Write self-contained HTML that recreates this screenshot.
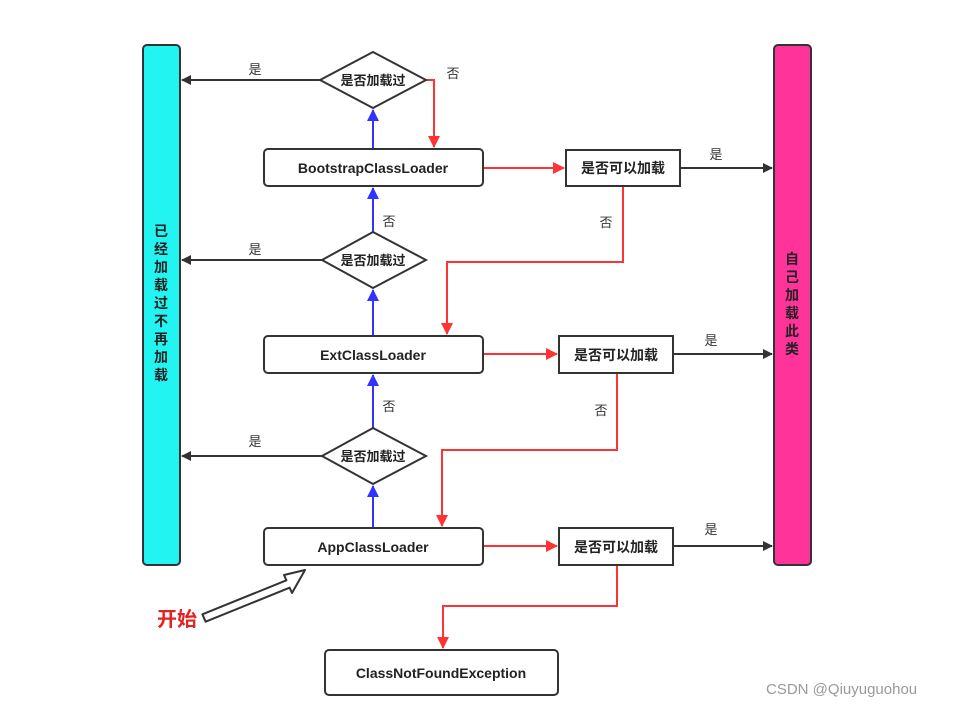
<!DOCTYPE html>
<html><head><meta charset="utf-8"><style>
html,body{margin:0;padding:0;background:#fff;}
svg{display:block;font-family:"Liberation Sans","Noto Sans CJK SC",sans-serif;}
.b{font-weight:bold;fill:#222;}
.l{fill:#333;font-size:13px;}
</style></head><body>
<svg width="964" height="707" viewBox="0 0 964 707" xmlns="http://www.w3.org/2000/svg">
<defs>
<marker id="ak" markerWidth="10" markerHeight="10" refX="9" refY="5" orient="auto" markerUnits="userSpaceOnUse"><path d="M0,0 L10,5 L0,10 z" fill="#333"/></marker>
<marker id="ar" markerWidth="12" markerHeight="14" refX="11" refY="6" orient="auto" markerUnits="userSpaceOnUse"><path d="M0,0 L12,6 L0,12 z" fill="#f33"/></marker>
<marker id="ab" markerWidth="12" markerHeight="14" refX="11" refY="6" orient="auto" markerUnits="userSpaceOnUse"><path d="M0,0 L12,6 L0,12 z" fill="#33f"/></marker>
</defs>
<rect x="143" y="45" width="37" height="520" rx="4" fill="#22f4f2" stroke="#333" stroke-width="2"/>
<rect x="774" y="45" width="37" height="520" rx="4" fill="#ff3399" stroke="#333" stroke-width="2"/>
<text class="b" font-size="14" text-anchor="middle">
<tspan x="161" y="236">已</tspan><tspan x="161" y="254">经</tspan><tspan x="161" y="272">加</tspan><tspan x="161" y="290">载</tspan><tspan x="161" y="308">过</tspan><tspan x="161" y="326">不</tspan><tspan x="161" y="344">再</tspan><tspan x="161" y="362">加</tspan><tspan x="161" y="380">载</tspan>
</text>
<text class="b" font-size="14" text-anchor="middle">
<tspan x="792" y="264">自</tspan><tspan x="792" y="282">己</tspan><tspan x="792" y="300">加</tspan><tspan x="792" y="318">载</tspan><tspan x="792" y="336">此</tspan><tspan x="792" y="354">类</tspan>
</text>
<g fill="none" stroke-width="2">
<path d="M320,80 H182" stroke="#333" marker-end="url(#ak)"/>
<path d="M322,260 H182" stroke="#333" marker-end="url(#ak)"/>
<path d="M322,456 H182" stroke="#333" marker-end="url(#ak)"/>
<path d="M680,168 H772" stroke="#333" marker-end="url(#ak)"/>
<path d="M673,354 H772" stroke="#333" marker-end="url(#ak)"/>
<path d="M673,546 H772" stroke="#333" marker-end="url(#ak)"/>
<path d="M373,149 V110" stroke="#33f" marker-end="url(#ab)"/>
<path d="M373,232 V188" stroke="#33f" marker-end="url(#ab)"/>
<path d="M373,336 V290" stroke="#33f" marker-end="url(#ab)"/>
<path d="M373,428 V375" stroke="#33f" marker-end="url(#ab)"/>
<path d="M373,528 V486" stroke="#33f" marker-end="url(#ab)"/>
<path d="M426,80 H434 V147" stroke="#f33" marker-end="url(#ar)"/>
<path d="M483,168 H564" stroke="#f33" marker-end="url(#ar)"/>
<path d="M623,186 V262 H447 V334" stroke="#f33" marker-end="url(#ar)"/>
<path d="M483,354 H557" stroke="#f33" marker-end="url(#ar)"/>
<path d="M617,373 V450 H442 V526" stroke="#f33" marker-end="url(#ar)"/>
<path d="M483,546 H557" stroke="#f33" marker-end="url(#ar)"/>
<path d="M617,565 V606 H443 V648" stroke="#f33" marker-end="url(#ar)"/>
</g>
<g fill="#fff" stroke="#333" stroke-width="2">
<polygon points="373,52 426,80 373,108 320,80"/>
<polygon points="373,232 426,260 373,288 322,260"/>
<polygon points="373,428 426,456 373,484 322,456"/>
</g>
<g class="b" font-size="13" text-anchor="middle">
<text x="373" y="85">是否加载过</text>
<text x="373" y="265">是否加载过</text>
<text x="373" y="461">是否加载过</text>
</g>
<g fill="#fff" stroke="#333" stroke-width="2">
<rect x="264" y="149" width="219" height="37" rx="4"/>
<rect x="264" y="336" width="219" height="37" rx="4"/>
<rect x="264" y="528" width="219" height="37" rx="4"/>
<rect x="566" y="150" width="114" height="36"/>
<rect x="559" y="336" width="114" height="37"/>
<rect x="559" y="528" width="114" height="37"/>
<rect x="325" y="650" width="233" height="45" rx="4"/>
</g>
<g class="b" font-size="14" text-anchor="middle">
<text x="373" y="173">BootstrapClassLoader</text>
<text x="373" y="360">ExtClassLoader</text>
<text x="373" y="552">AppClassLoader</text>
<text x="441" y="678">ClassNotFoundException</text>
<text x="623" y="173">是否可以加载</text>
<text x="616" y="360">是否可以加载</text>
<text x="616" y="552">是否可以加载</text>
</g>
<g class="l" text-anchor="middle">
<text x="255" y="74">是</text>
<text x="255" y="254">是</text>
<text x="255" y="446">是</text>
<text x="453" y="78">否</text>
<text x="389" y="226">否</text>
<text x="389" y="411">否</text>
<text x="606" y="227">否</text>
<text x="601" y="415">否</text>
<text x="716" y="159">是</text>
<text x="711" y="345">是</text>
<text x="711" y="534">是</text>
</g>
<polygon points="202.4,614.3 286.4,580.3 284,575 305,570 292,593 289.6,587.7 205.6,621.7" fill="#fff" stroke="#333" stroke-width="2" stroke-linejoin="round"/>
<text x="157" y="626" font-size="20" font-weight="bold" fill="#e52222">开始</text>
<text x="766" y="694" font-size="15" fill="#999">CSDN @Qiuyuguohou</text>
</svg>
</body></html>
